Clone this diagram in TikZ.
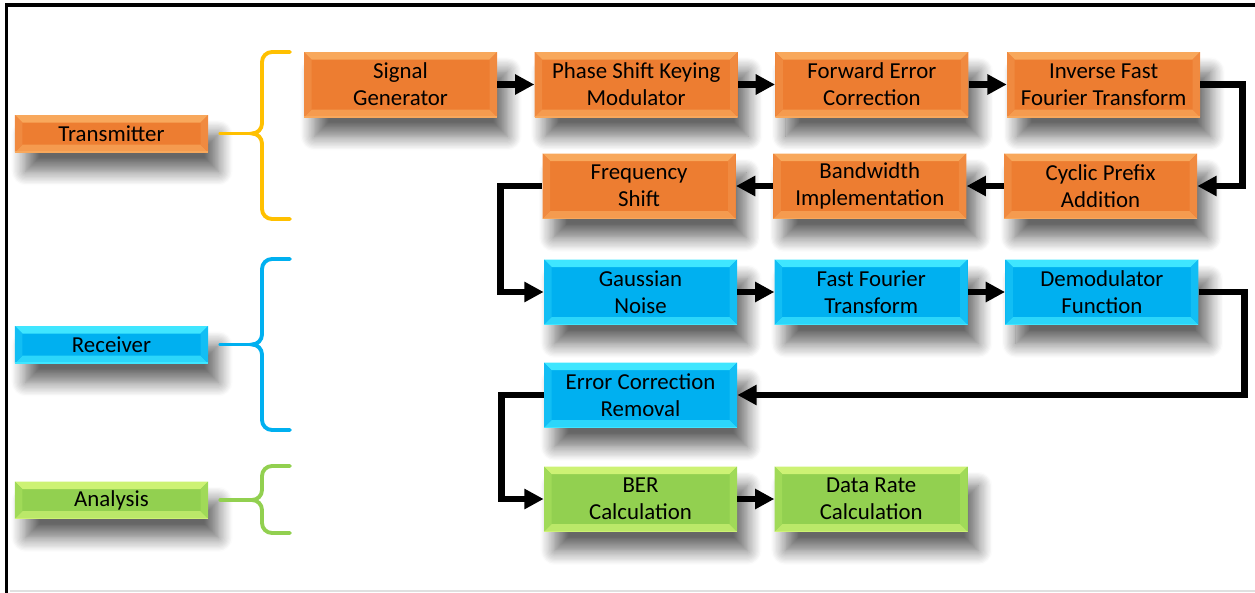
\documentclass[tikz,border=0pt]{standalone}
\usepackage{fontspec}
\setmainfont{Carlito}
\usetikzlibrary{positioning}
\usetikzlibrary{arrows.meta}
\usetikzlibrary{shadows.blur}
\definecolor{orgM}{HTML}{ED7D31}
\definecolor{orgT}{HTML}{F8A85C}
\definecolor{orgS}{HTML}{F08A40}
\definecolor{bluM}{HTML}{00B0F0}
\definecolor{bluT}{HTML}{3FE6FF}
\definecolor{bluS}{HTML}{12BEF4}
\definecolor{grnM}{HTML}{92D050}
\definecolor{grnT}{HTML}{CDF274}
\definecolor{grnS}{HTML}{A0DA58}
\definecolor{yel}{HTML}{FFC000}
\tikzset{blk/.style n args={3}{draw=none, fill=#1, minimum width=3.86cm, minimum height=1.3cm, inner sep=1pt, align=center,
  font=\fontsize{13}{15.5}\selectfont,
  blur shadow={shadow xshift=6pt, shadow yshift=-11pt, shadow blur radius=8pt, shadow blur steps=12, shadow opacity=60},
  path picture={
    \coordinate (nw) at (path picture bounding box.north west);
    \coordinate (ne) at (path picture bounding box.north east);
    \coordinate (sw) at (path picture bounding box.south west);
    \coordinate (se) at (path picture bounding box.south east);
    \fill[#2] (nw) -- (ne) -- ([shift={(-0.15,-0.15)}]ne) -- ([shift={(0.15,-0.15)}]nw) -- cycle;
    \fill[#2!70!#1] (sw) -- (se) -- ([shift={(-0.15,0.15)}]se) -- ([shift={(0.15,0.15)}]sw) -- cycle;
    \fill[#3] (nw) -- ([shift={(0.15,-0.15)}]nw) -- ([shift={(0.15,0.15)}]sw) -- (sw) -- cycle;
    \fill[#3] (ne) -- ([shift={(-0.15,-0.15)}]ne) -- ([shift={(-0.15,0.15)}]se) -- (se) -- cycle;
    \draw[#2, line width=1pt] (sw) -- (se);
  }}}
\tikzset{tx/.style={blk={orgM}{orgT}{orgS}}}
\tikzset{rx/.style={blk={bluM}{bluT}{bluS}}}
\tikzset{an/.style={blk={grnM}{grnT}{grnS}}}
\tikzset{lbl/.style={minimum height=0.74cm}}
\tikzset{flow/.style={line width=3.8pt, -{Triangle[length=11pt,width=11pt]}}}
\tikzset{brc/.style={line width=2.2pt, line cap=round}}

\begin{document}
\begin{tikzpicture}
\useasboundingbox (0,0) rectangle (25.1,-11.86);
\draw[line width=2pt] (0.13,-11.86) -- (0.13,-0.1) -- (25.1,-0.1);
\draw[black!12, line width=0.8pt] (0.2,-11.82) -- (25.1,-11.82);

\node (txl) [tx, lbl] at (2.23,-2.67) {Transmitter};
\node (rxl) [rx, lbl] at (2.23,-6.89) {Receiver};
\node (anl) [an, lbl] at (2.23,-10.0) {Analysis};

\coordinate (txb) at (5.04,-2.67);
\coordinate (rxb) at (5.04,-6.89);
\coordinate (anb) at (5.04,-10.0);

\draw[brc, yel] (5.8,-1.04) -- (5.44,-1.04) to[out=180,in=90] (5.24,-1.24) -- (5.24,-2.47) to[out=-90,in=0] (txb)
  to[out=0,in=90] (5.24,-2.87) -- (5.24,-4.18) to[out=-90,in=180] (5.44,-4.38) -- (5.8,-4.38);
\draw[brc, yel, shorten <=0.24cm] (txl) -- (txb);
\draw[brc, bluM] (5.8,-5.18) -- (5.44,-5.18) to[out=180,in=90] (5.24,-5.38) -- (5.24,-6.69) to[out=-90,in=0] (rxb)
  to[out=0,in=90] (5.24,-7.09) -- (5.24,-8.4) to[out=-90,in=180] (5.44,-8.6) -- (5.8,-8.6);
\draw[brc, bluM, shorten <=0.24cm] (rxl) -- (rxb);
\draw[brc, grnM] (5.8,-9.32) -- (5.44,-9.32) to[out=180,in=90] (5.24,-9.52) -- (5.24,-9.8) to[out=-90,in=0] (anb)
  to[out=0,in=90] (5.24,-10.2) -- (5.24,-10.46) to[out=-90,in=180] (5.44,-10.66) -- (5.8,-10.66);
\draw[brc, grnM, shorten <=0.24cm] (anl) -- (anb);

\node (sg) [tx] at (8.01,-1.69) {Signal\\Generator};
\node (psk) [tx, minimum width=4.06cm, right=0.74 of sg] {Phase Shift Keying\\Modulator};
\node (fec) [tx, right=0.74 of psk] {Forward Error\\Correction};
\node (ifft) [tx, right=0.76 of fec] {Inverse Fast\\Fourier Transform};

\node (cp) [tx] at (22.01,-3.72) {Cyclic Prefix\\Addition};
\node (bw) [tx, left=0.74 of cp] {Bandwidth\\Implementation};
\node (fs) [tx, left=0.74 of bw] {Frequency\\Shift};

\node (gn) [rx] at (12.81,-5.84) {Gaussian\\Noise};
\node (fft) [rx, right=0.74 of gn] {Fast Fourier\\Transform};
\node (dm) [rx, right=0.74 of fft] {Demodulator\\Function};

\node (ecr) [rx] at (12.81,-7.9) {Error Correction\\Removal};

\node (ber) [an] at (12.81,-9.98) {BER\\Calculation};
\node (dr) [an, right=0.74 of ber] {Data Rate\\Calculation};

\draw[flow] (sg) -- (psk);
\draw[flow] (psk) -- (fec);
\draw[flow] (fec) -- (ifft);
\draw[flow] (ifft.east) -- ++(0.84,0) |- (cp.east);
\draw[flow] (cp) -- (bw);
\draw[flow] (bw) -- (fs);
\draw[flow] (fs.west) -- ++(-0.84,0) |- (gn.west);
\draw[flow] (gn) -- (fft);
\draw[flow] (fft) -- (dm);
\draw[flow] (dm.east) -- ++(0.92,0) |- (ecr.east);
\draw[flow] (ecr.west) -- ++(-0.84,0) |- (ber.west);
\draw[flow] (ber) -- (dr);
\end{tikzpicture}
\end{document}
